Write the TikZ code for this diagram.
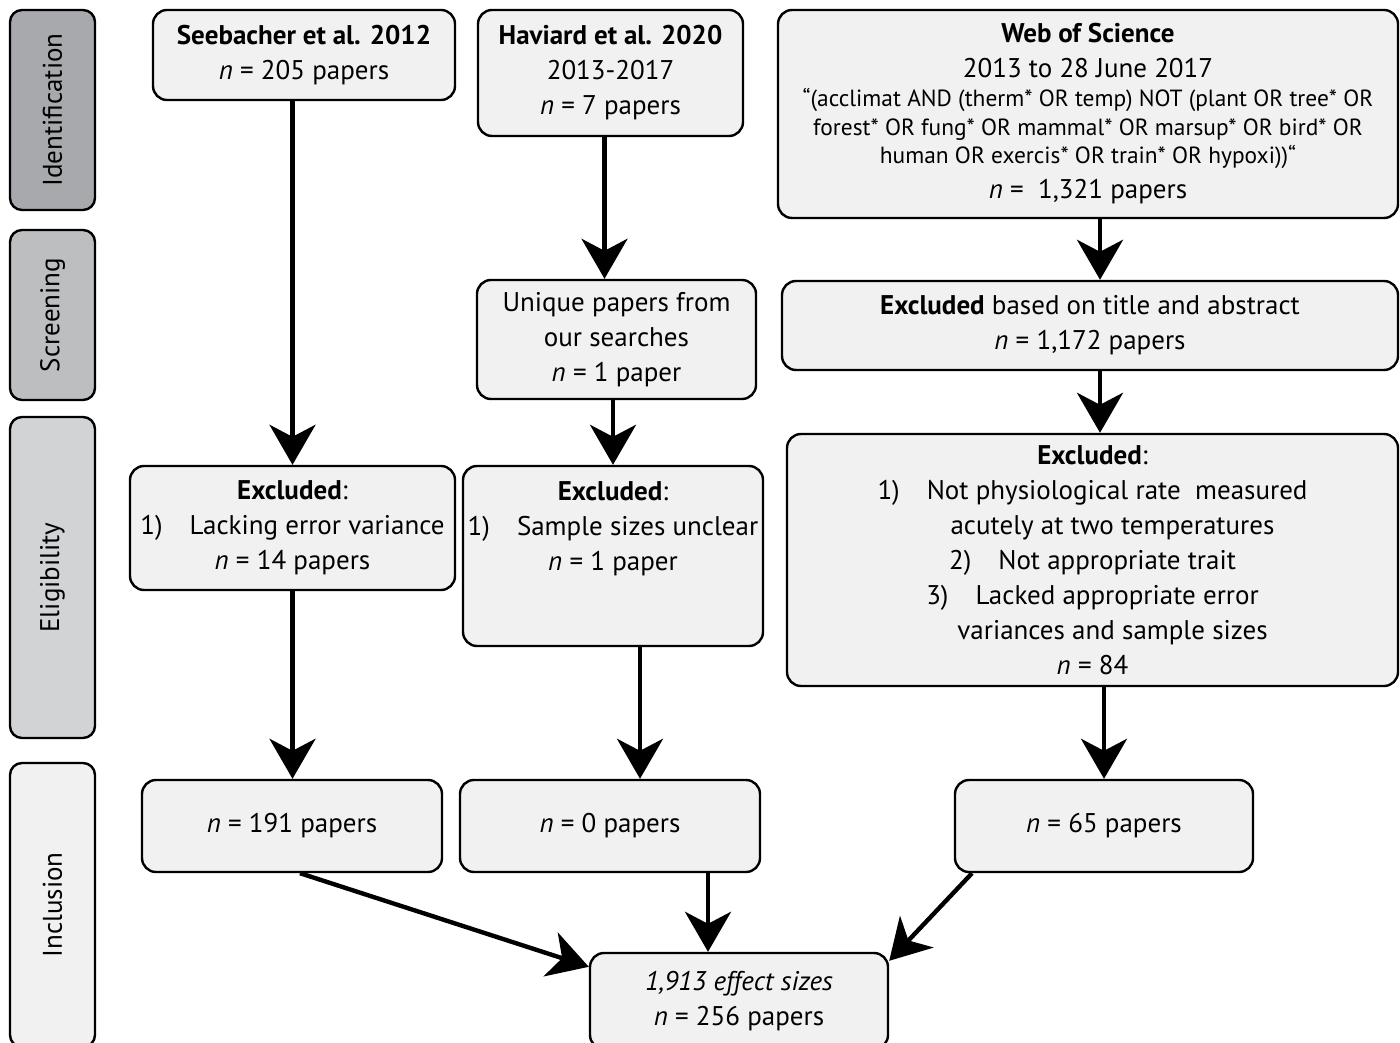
\documentclass[tikz,border=0pt]{standalone}
\usepackage{fontspec}
\setmainfont{PT Sans}
\usetikzlibrary{arrows.meta}

\definecolor{boxgray}{HTML}{F1F1F2}
\definecolor{idgray}{HTML}{A7A9AC}
\definecolor{scgray}{HTML}{BCBEC0}
\definecolor{elgray}{HTML}{D1D3D4}

\newcommand{\nis}[1]{\textit{n} = #1}
\newcommand{\bigtxt}{\fontsize{13.5}{17.5}\selectfont}
\newcommand{\smalltxt}{\fontsize{11.7}{14.25}\selectfont}

\begin{document}
\begin{tikzpicture}[x=0.5pt, y=-0.5pt,
  box/.style={draw, line width=1.2pt, rounded corners=7pt, fill=boxgray,
    align=center, inner sep=0pt, font=\bigtxt},
  stage/.style={draw, line width=1.2pt, rounded corners=6pt, rotate=90,
    minimum height=42.5pt, inner sep=0pt, font=\bigtxt},
  flow/.style={line width=2.2pt, -{Stealth[length=20pt, width=23pt, inset=6pt]}}]

\clip (0,0) rectangle (1400,1042);

% stages on the left
\node[stage, fill=idgray, minimum width=100pt] (idf) at (52.5,110) {Identification};
\node[stage, fill=scgray, minimum width=85pt] (scn) at (52.5,315) {Screening};
\node[stage, fill=elgray, minimum width=160.5pt] (elg) at (52.5,577.5) {Eligibility};
\node[stage, fill=boxgray, minimum width=142pt] (inc) at (52.5,905) {Inclusion};

% sources
\node[box, minimum width=151pt, minimum height=45pt] (seeb) at (304,55)
  {\textbf{Seebacher et al. 2012}\\ \nis{205 papers}};
\node[box, minimum width=132.5pt, minimum height=63pt] (hav) at (610.5,73)
  {\textbf{Haviard et al. 2020}\\ 2013-2017\\ \nis{7 papers}};
\node[box, minimum width=310pt, minimum height=104pt] (wos) at (1088,114)
  {\textbf{Web of Science}\\ 2013 to 28 June 2017\\[-3pt]
   \smalltxt “(acclimat AND (therm* OR temp) NOT (plant OR tree* OR\\[-3.25pt]
   \smalltxt forest* OR fung* OR mammal* OR marsup* OR bird* OR\\[-3.25pt]
   \smalltxt human OR exercis* OR train* OR hypoxi))“\\
   \textit{n} =\ \ 1,321 papers};

% screening
\node[box, minimum width=139.5pt, minimum height=59.5pt] (uniq) at (616.5,339.5)
  {Unique papers from\\ our searches\\ \nis{1 paper}};
\node[box, minimum width=308pt, minimum height=44.5pt] (scr) at (1090,325.5)
  {\textbf{Excluded} based on title and abstract\\ \nis{1,172 papers}};

% eligibility
\node[box, minimum width=162.5pt, minimum height=62pt] (exc1) at (292.5,528)
  {\textbf{Excluded}:\\ 1)\quad Lacking error variance\\ \nis{14 papers}};
\node[box, minimum width=150pt, minimum height=90pt] (exc2) at (613,556)
  {\textbf{Excluded}:\\ 1)\quad Sample sizes unclear\\ \nis{1 paper}\\[12.5pt]\mbox{}};
\node[box, minimum width=305.5pt, minimum height=126pt] (exc3) at (1092.5,560)
  {\textbf{Excluded}:\\ 1)\quad Not physiological rate\ \ measured\\
   \hspace{20pt}acutely at two temperatures\\ 2)\quad Not appropriate trait\hspace{14pt}\\
   3)\quad Lacked appropriate error\\ \hspace{20pt}variances and sample sizes\\ \nis{84}};

% inclusion
\node[box, minimum width=150pt, minimum height=46pt] (inc1) at (292,826) {\nis{191 papers}};
\node[box, minimum width=150pt, minimum height=46pt] (inc2) at (610,826) {\nis{0 papers}};
\node[box, minimum width=149pt, minimum height=46pt] (inc3) at (1104,826) {\nis{65 papers}};
\node[box, minimum width=149pt, minimum height=48pt] (fin) at (739,1001)
  {\textit{1,913 effect sizes}\\ \nis{256 papers}};

% arrows
\draw[flow] (exc1.north |- seeb.south) -- (exc1.north);
\draw[flow] ([xshift=-3pt]hav.south) -- ([xshift=-3pt]hav.south |- uniq.north);
\draw[flow] (uniq.south -| exc2.north) -- (exc2.north);
\draw[flow] ([xshift=6pt]wos.south) -- ([xshift=6pt]wos.south |- scr.north);
\draw[flow] ([xshift=5pt]scr.south) -- ([xshift=5pt]scr.south |- exc3.north);
\draw[flow] (exc1.south) -- (exc1.south |- inc1.north);
\draw[flow] ([xshift=13.5pt]exc2.south) -- ([xshift=13.5pt]exc2.south |- inc2.north);
\draw[flow] (inc3.north |- exc3.south) -- (inc3.north);
\draw[flow] ([xshift=4pt]inc1.south) -- ([yshift=-7.5pt]fin.north west);
\draw[flow] ([xshift=49pt]inc2.south) -- ([xshift=49pt]inc2.south |- fin.north);
\draw[flow] ([xshift=-66pt]inc3.south) -- ([yshift=-4.5pt]fin.north east);

\end{tikzpicture}
\end{document}
